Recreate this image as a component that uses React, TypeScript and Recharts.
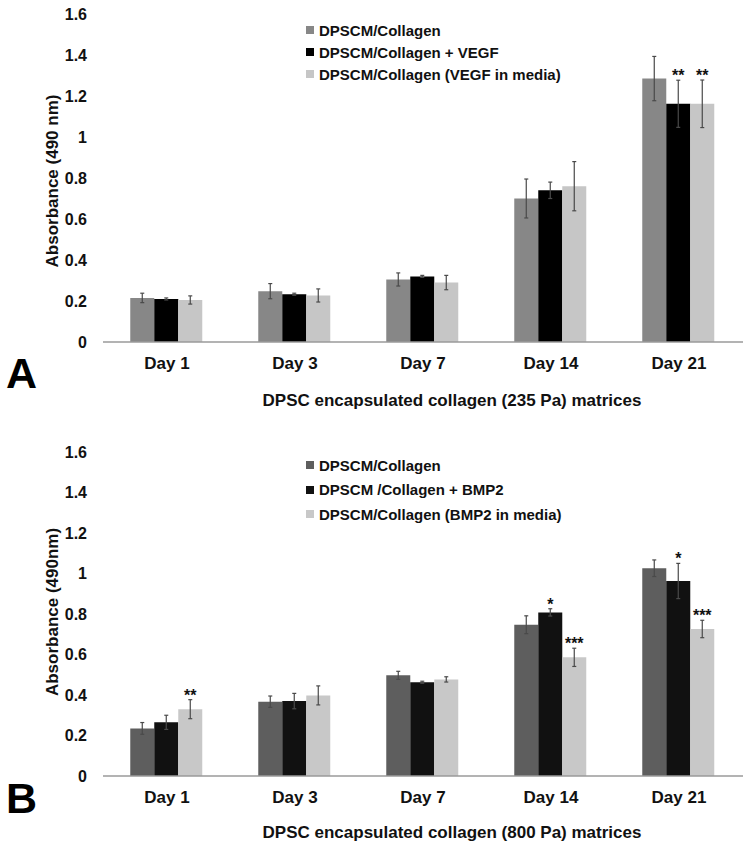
import React from 'react';
import { BarChart, Bar, XAxis, YAxis, ErrorBar, LabelList, Legend } from 'recharts';

const days = ['Day 1', 'Day 3', 'Day 7', 'Day 14', 'Day 21'];
const yTicks = [0, 0.2, 0.4, 0.6, 0.8, 1, 1.2, 1.4, 1.6];

// Panel A - 235 Pa
const namesA = ['DPSCM/Collagen', 'DPSCM/Collagen + VEGF', 'DPSCM/Collagen (VEGF in media)'];
const collagenA = [0.215, 0.248, 0.305, 0.70, 1.285];
const vegfA = [0.21, 0.233, 0.32, 0.74, 1.162];
const mediaA = [0.205, 0.227, 0.29, 0.76, 1.162];
const collagenErrA = [0.023, 0.037, 0.032, 0.095, 0.108];
const vegfErrA = [0.005, 0.005, 0.005, 0.04, 0.115];
const mediaErrA = [0.02, 0.032, 0.035, 0.12, 0.116];
const collagenSigA = ['', '', '', '', ''];
const vegfSigA = ['', '', '', '', '**'];
const mediaSigA = ['', '', '', '', '**'];

// Panel B - 800 Pa
const namesB = ['DPSCM/Collagen', 'DPSCM /Collagen + BMP2', 'DPSCM/Collagen (BMP2 in media)'];
const collagenB = [0.235, 0.367, 0.497, 0.747, 1.026];
const bmpB = [0.265, 0.37, 0.463, 0.808, 0.963];
const mediaB = [0.33, 0.398, 0.477, 0.586, 0.726];
const collagenErrB = [0.029, 0.028, 0.02, 0.044, 0.041];
const bmpErrB = [0.035, 0.038, 0.005, 0.018, 0.087];
const mediaErrB = [0.047, 0.047, 0.013, 0.045, 0.043];
const collagenSigB = ['', '', '', '', ''];
const bmpSigB = ['', '', '', '*', '*'];
const mediaSigB = ['**', '', '', '***', '***'];

const colorsA = ['#878787', '#000000', '#c6c6c6'];
const colorsB = ['#5e5e5e', '#111111', '#c8c8c8'];

const buildRows = (v: number[][], e: number[][], s: string[][]) =>
  days.map((d, i) => ({
    day: d,
    v1: v[0][i], v2: v[1][i], v3: v[2][i],
    e1: e[0][i], e2: e[1][i], e3: e[2][i],
    s1: s[0][i], s2: s[1][i], s3: s[2][i],
  }));

const font = '"Liberation Sans", Arial, sans-serif';
const errColor = '#4a4a4a';

// star label sits just above the top of the error bar
const starLabel = (values: number[], errs: number[], sigs: string[]) => (props: any) => {
  const vb = props.viewBox || {};
  const x = props.x ?? vb.x;
  const y = props.y ?? vb.y;
  const w = props.width ?? vb.width;
  const h = props.height ?? vb.height;
  const i = props.index;
  if (i == null || !sigs[i]) return null;
  const perUnit = h / values[i];
  const top = y - errs[i] * perUnit;
  return (
    <text x={x + w / 2} y={top + 1} textAnchor="middle" fontFamily={font} fontWeight="bold" fontSize={16} fill="#111">
      {sigs[i]}
    </text>
  );
};

const legendContent = (names: string[], colors: string[], rowH: number) => () => (
  <div style={{ fontFamily: font, fontWeight: 'bold', fontSize: 15, color: '#111' }}>
    {names.map((n, j) => (
      <div key={n} style={{ display: 'flex', alignItems: 'center', height: rowH, whiteSpace: 'nowrap' }}>
        <span style={{ display: 'inline-block', width: 8, height: 8, background: colors[j], marginRight: 5 }} />
        <span>{n}</span>
      </div>
    ))}
  </div>
);

interface PanelProps {
  names: string[];
  colors: string[];
  height: number;
  top: number;
  xHeight: number;
  legendTop: number;
  legendRow: number;
  vals: number[][];
  errs: number[][];
  sigs: string[][];
}

const Panel: React.FC<PanelProps> = ({ names, colors, height, top, xHeight, legendTop, legendRow, vals, errs, sigs }) => (
  <BarChart width={749} height={height} data={buildRows(vals, errs, sigs)} margin={{ top, right: 6, bottom: 0, left: 0 }} barCategoryGap="21.3%" barGap={0}>
    <XAxis
      dataKey="day"
      height={xHeight}
      tickLine={false}
      tickSize={0}
      tickMargin={15}
      stroke="#9a9a9a"
      strokeWidth={1.5}
      tick={{ fill: '#111', fontSize: 17, fontWeight: 'bold', fontFamily: font }}
    />
    <YAxis
      width={103}
      domain={[0, 1.6]}
      ticks={yTicks}
      axisLine={false}
      tickLine={false}
      tickSize={0}
      tickMargin={16}
      tick={{ fill: '#111', fontSize: 16, fontWeight: 'bold', fontFamily: font }}
    />
    <Legend
      layout="vertical"
      align="center"
      verticalAlign="middle"
      wrapperStyle={{ top: legendTop, left: 306, width: 'auto' }}
      content={legendContent(names, colors, legendRow)}
    />
    {['v1', 'v2', 'v3'].map((k, j) => (
      <Bar key={k} dataKey={k} name={names[j]} fill={colors[j]} isAnimationActive={false}>
        <ErrorBar dataKey={'e' + (j + 1)} stroke={errColor} strokeWidth={1.2} width={2} />
        <LabelList dataKey={'s' + (j + 1)} content={starLabel(vals[j], errs[j], sigs[j])} />
      </Bar>
    ))}
  </BarChart>
);

export default function App() {
  return (
    <div style={{ position: 'absolute', left: 0, top: 0, width: 749, height: 846, background: '#fff' }}>
      <div style={{ position: 'absolute', left: 0, top: 0 }}>
        <Panel
          names={namesA}
          colors={colorsA}
          height={420}
          top={14}
          xHeight={78}
          legendTop={19}
          legendRow={22}
          vals={[collagenA, vegfA, mediaA]}
          errs={[collagenErrA, vegfErrA, mediaErrA]}
          sigs={[collagenSigA, vegfSigA, mediaSigA]}
        />
      </div>
      <div style={{ position: 'absolute', left: 0, top: 420 }}>
        <Panel
          names={namesB}
          colors={colorsB}
          height={426}
          top={32}
          xHeight={70}
          legendTop={33}
          legendRow={24.5}
          vals={[collagenB, bmpB, mediaB]}
          errs={[collagenErrB, bmpErrB, mediaErrB]}
          sigs={[collagenSigB, bmpSigB, mediaSigB]}
        />
      </div>
      <svg width={749} height={846} style={{ position: 'absolute', left: 0, top: 0, pointerEvents: 'none' }} fontFamily={font} fontWeight="bold" fill="#111">
        <text x={52} y={181} transform="rotate(-90 52 181)" textAnchor="middle" dominantBaseline="central" fontSize={17}>Absorbance (490 nm)</text>
        <text x={52} y={612} transform="rotate(-90 52 612)" textAnchor="middle" dominantBaseline="central" fontSize={17}>Absorbance (490nm)</text>
        <text x={452} y={406} textAnchor="middle" fontSize={17}>DPSC encapsulated collagen (235 Pa) matrices</text>
        <text x={452} y={838} textAnchor="middle" fontSize={17}>DPSC encapsulated collagen (800 Pa) matrices</text>
        <text x={6} y={388} fontSize={43} fill="#000">A</text>
        <text x={6} y={813} fontSize={43} fill="#000">B</text>
      </svg>
    </div>
  );
}
